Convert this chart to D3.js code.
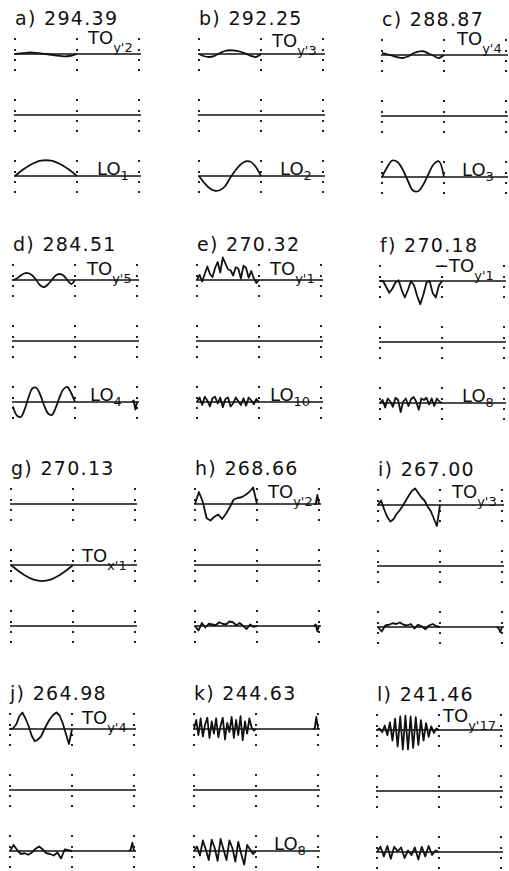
<!DOCTYPE html>
<html><head><meta charset="utf-8">
<script src="https://cdn.jsdelivr.net/npm/d3@7"></script>
<style>html,body{margin:0;background:#fff}svg{display:block}</style>
</head><body>
<svg id="chart" width="509" height="871"></svg>
<script>
// Panel letters and mode frequencies (cm-1)
const letters = ["a","b","c","d","e","f","g","h","i","j","k","l"];
const freqs = ["294.39","292.25","288.87","284.51","270.32","270.18","270.13","268.66","267.00","264.98","244.63","241.46"];

// Mode-shape displacements along the left half of each strand (1 unit = full deflection)
const aTop = [0,0.04,0.08,0.1,0.08,0.04,0,-0.05,-0.1,-0.14,-0.15,-0.1,0];
const aBot = [0,0.28,0.53,0.75,0.91,1.02,1.05,1.02,0.91,0.75,0.53,0.28,0];
const bTop = [0,-0.15,-0.2,-0.12,0.05,0.2,0.25,0.22,0.15,0.02,-0.12,-0.2,0];
const bBot = [0,-0.45,-0.8,-0.98,-0.95,-0.7,-0.15,0.35,0.75,0.98,0.95,0.6,0];
const cTop = [0.12,0.05,-0.05,-0.15,-0.2,-0.1,0.1,0.22,0.25,0.1,-0.05,-0.2,0];
const cBot = [0,0.65,1.1,1.0,0.5,-0.25,-0.9,-0.95,-0.5,0.2,0.85,1.05,0];
const dTop = [0,0.1,0.3,0.45,0.45,0.3,0,-0.35,-0.47,-0.3,0,0.3,0.4,0.3,0,-0.27,0];
const dBot = [-0.3,-0.9,-1.0,-0.5,0.3,0.9,0.95,0.5,-0.2,-0.75,-0.87,-0.4,0.3,0.85,1.0,0.6,0];
const eTop = [0,0.35,-0.1,0.4,0.9,0.4,0.2,0.8,1.2,0.5,1.5,1.1,0.7,0.65,0.3,0.85,0.75,0.1,0.95,0.8,0.15,0.6,0.1,-0.2,0];
const eBot = [0,0.3,-0.2,0.35,0.1,-0.3,0.25,0.35,-0.1,0.3,-0.35,0.2,0.3,-0.3,-0.1,0.3,0.05,-0.2,0.25,-0.25,0.3,0.1,-0.15,0.2,0];
const fTop = [0,0,-0.4,-0.78,-0.5,-0.1,0.05,-0.6,-1.1,-0.6,0,-0.3,-1.0,-1.55,-0.9,-0.1,0,-0.8,-1.1,-0.3,0];
const fBot = [0,0.2,-0.3,0.3,0.1,-0.25,0.35,0.2,-0.6,0.1,0.3,-0.2,0.25,0.4,0.1,-0.45,0.3,0.2,0.35,-0.1,0.3,-0.2,0.3,0.1,0];
const gMid = [0,-0.28,-0.53,-0.75,-0.92,-1.03,-1.07,-1.03,-0.92,-0.75,-0.53,-0.28,0];
const hTop = [0,0.8,0.15,-0.95,-1.1,-0.85,-0.7,-1.0,-0.65,-0.2,0.3,0.4,0.45,0.6,0.8,1.1,0];
const hBot = [0,-0.3,0.2,-0.1,0.15,0.1,0.05,0.25,0.15,0.1,0.3,0.25,0.05,0.2,0,-0.2,0.1,-0.05,0];
const iTop = [0,0.3,-0.3,-0.8,-1.1,-0.95,-0.6,-0.35,-0.05,0.3,0.65,0.95,1.1,0.8,0.5,0.3,-0.1,-0.4,-0.9,-1.4,0];
const iBot = [0,-0.3,0.1,0.15,0.25,0.2,0.3,0.15,0.1,0.2,-0.1,0.15,0.05,-0.15,0.1,0.2,0.05,0];
const jTop = [0,0.05,0.3,0.85,1.1,0.7,0.2,-0.45,-0.82,-0.7,-0.5,-0.05,0.35,0.7,0.95,1.1,0.9,0.4,-0.3,-1.0,0];
const jBot = [0,0.4,0.05,-0.2,-0.15,-0.25,-0.1,0.15,0.3,0.1,-0.15,-0.2,-0.3,-0.1,-0.5,0.1,0.05,0];
const kTop = [0,0.6,-0.4,0.7,-0.5,0.3,0.75,-0.6,0.5,-0.3,0.7,-0.55,0.2,0.75,-0.7,0.4,-0.2,0.8,-0.6,0.6,-0.4,0.85,-0.75,0.5,-0.3,0.7,0.1,-0.1,0];
const kBot = [0,0.3,-0.3,0.7,0.1,-0.6,0.75,0.2,-0.65,0.8,0.1,-0.6,0.7,0.2,-0.7,0.6,-0.2,-0.9,0.4,0.1,-0.2,0];
const lTop = [0,0.1,-0.15,0.3,-0.35,0.5,-0.7,0.75,-1.1,0.9,-1.3,0.95,-1.3,0.9,-1.2,0.85,-1.0,0.65,-0.7,0.45,-0.45,0.25,-0.2,0.1,0];
const lBot = [0,0.35,-0.3,0.4,-0.45,0.35,0.05,0.3,-0.4,0.1,-0.2,0.3,-0.5,0.35,-0.3,0.4,-0.2,0.1,0];

// Displacements of the last few atoms at the far end of some strands
const dBotEnd = [0,0.1,-0.5,0];
const hTopEnd = [0,0,0.6,0];
const hBotEnd = [0,0.1,-0.35,0];
const iBotEnd = [0,-0.1,-0.35,0];
const jBotEnd = [0,0.1,0.55,0];
const kTopEnd = [0,0.05,0.8,0];

// Strand traces per panel: [top, middle, bottom]; null = undeformed
const traces = [
  [aTop,null,aBot],[bTop,null,bBot],[cTop,null,cBot],
  [dTop,null,dBot],[eTop,null,eBot],[fTop,null,fBot],
  [null,gMid,null],[hTop,null,hBot],[iTop,null,iBot],
  [jTop,null,jBot],[kTop,null,kBot],[lTop,null,lBot]
];
const tails = [
  [null,null,null],[null,null,null],[null,null,null],
  [null,null,dBotEnd],[null,null,null],[null,null,null],
  [null,null,null],[hTopEnd,null,hBotEnd],[null,null,iBotEnd],
  [null,null,jBotEnd],[kTopEnd,null,null],[null,null,null]
];
// Mode labels: [main, subscript, strand index]
const modeLabels = [
  [["TO","y'2",0],["LO","1",2]],
  [["TO","y'3",0],["LO","2",2]],
  [["TO","y'4",0],["LO","3",2]],
  [["TO","y'5",0],["LO","4",2]],
  [["TO","y'1",0],["LO","10",2]],
  [["\u2212TO","y'1",0],["LO","8",2]],
  [["TO","x'1",1]],
  [["TO","y'2",0]],
  [["TO","y'3",0]],
  [["TO","y'4",0]],
  [["LO","8",2]],
  [["TO","y'17",0]]
];
const smooth = new Set(["a","b","c","d","g"]);

// ---- layout ----
const colX = [15, 199, 382];
const rowShift = [0, -2, -4, -5];
const rowY = [54, 280, 504, 729];
const seg = 62;          // length of one half of a strand
const strandGap = 61;    // vertical distance between strands
const tailSpan = 0.08;   // fraction of the strand covered by an end trace
// label anchor tweaks: [dx from centre line, dy from strand]
const labelPos = [
  [[11,-10],[20,-1]],[[11,-7],[19,-1]],[[13,-10],[18,-1]],
  [[12,-5],[15,-1]],[[11,-5],[11,-1]],[[-8,-9],[20,-1]],
  [[9,-3]],[[11,-6]],[[12,-7]],[[10,-5]],[[18,-1]],[[4,-8]]
];

const svg = d3.select("#chart");
const x = d3.scaleLinear().domain([0, 2]).range([0, 2 * seg]);
const y = d3.scaleLinear().domain([-1, 1]).range([15, -15]);
const dotOffsets = [-15, -4, 6, 16];

function drawTrace(sel, data, x0, x1, curve) {
  const n = data.length;
  const line = d3.line()
    .x((d, i) => x(x0 + (x1 - x0) * i / (n - 1)))
    .y(d => y(d))
    .curve(curve);
  sel.append("path").attr("d", line(data))
    .attr("fill", "none").attr("stroke", "#111")
    .attr("stroke-width", 1.8).attr("stroke-linejoin", "round");
}

letters.forEach((L, p) => {
  const r = Math.floor(p / 3), c = p % 3;
  const g = svg.append("g")
    .attr("transform", `translate(${colX[c] + rowShift[r]},${rowY[r] + (c === 2 ? 1 : 0)})`);

  g.append("text")
    .attr("x", 0).attr("y", -29)
    .attr("font-family", "DejaVu Sans, sans-serif")
    .attr("font-size", 19).attr("letter-spacing", 1.3)
    .attr("fill", "#111")
    .text(`${L}) ${freqs[p]}`);

  for (let s = 0; s < 3; s++) {
    const sy = s * strandGap;
    const sg = g.append("g").attr("transform", `translate(0,${sy})`);
    // dotted guide marks at the strand ends and the centre
    [0, 1, 2].forEach(k => {
      dotOffsets.forEach(o => {
        sg.append("rect").attr("x", x(k) - 1).attr("y", o - 1)
          .attr("width", 2).attr("height", 2).attr("fill", "#222");
      });
    });
    // strand axis
    sg.append("line").attr("x1", x(0) - 1).attr("x2", x(2) + 2)
      .attr("y1", 0).attr("y2", 0)
      .attr("stroke", "#111").attr("stroke-width", 1.6);
    const data = traces[p][s];
    if (data) drawTrace(sg, data, 0, 1, smooth.has(L) ? d3.curveCatmullRom : d3.curveLinear);
    const tail = tails[p][s];
    if (tail) drawTrace(sg, tail, 2 - tailSpan, 2, d3.curveLinear);
  }

  modeLabels[p].forEach((lab, k) => {
    const [dx, dy] = labelPos[p][k];
    const t = g.append("text")
      .attr("x", x(1) + dx).attr("y", lab[2] * strandGap + dy)
      .attr("font-family", "DejaVu Sans, sans-serif")
      .attr("fill", "#111");
    t.append("tspan").attr("font-size", 18).text(lab[0]);
    t.append("tspan").attr("font-size", 13).attr("dy", lab[0] === "LO" ? 5 : 8).text(lab[1]);
  });
});
</script>
</body></html>
